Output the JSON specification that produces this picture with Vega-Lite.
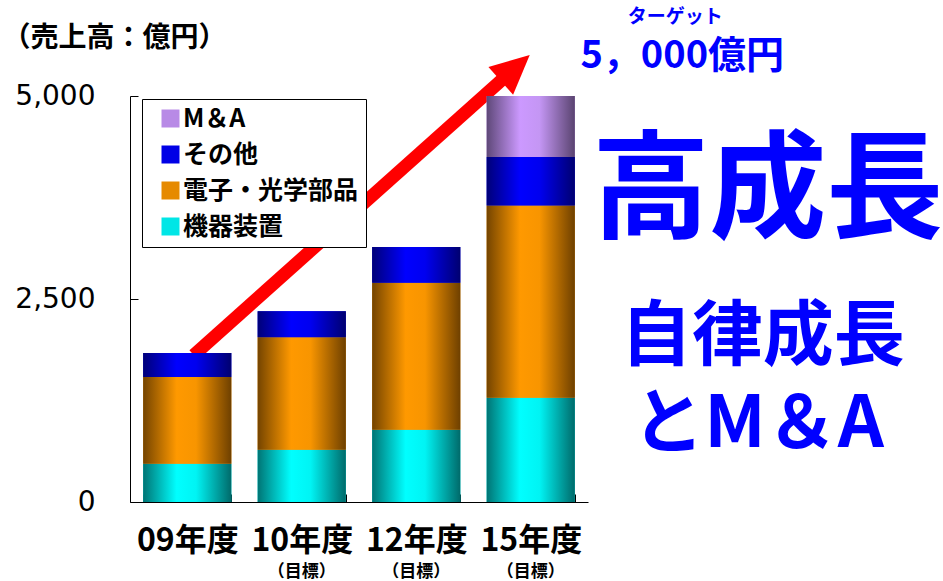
{
  "$schema": "https://vega.github.io/schema/vega-lite/v6.json",
  "width": 458,
  "height": 406,
  "autosize": "none",
  "padding": {"left": 130, "top": 96, "right": 355, "bottom": 79},
  "background": "white",
  "params": [
    {
      "name": "grad",
      "expr": "{'M＆A': {gradient: 'linear', x1: 0, y1: 0, x2: 1, y2: 0, stops: [{offset: 0, color: '#5E4878'}, {offset: 0.38, color: '#CC99FF'}, {offset: 0.6, color: '#C496F4'}, {offset: 1, color: '#5A4470'}]}, 'その他': {gradient: 'linear', x1: 0, y1: 0, x2: 1, y2: 0, stops: [{offset: 0, color: '#000078'}, {offset: 0.38, color: '#0000FF'}, {offset: 0.6, color: '#0000F0'}, {offset: 1, color: '#000070'}]}, '電子・光学部品': {gradient: 'linear', x1: 0, y1: 0, x2: 1, y2: 0, stops: [{offset: 0, color: '#744400'}, {offset: 0.38, color: '#FF9900'}, {offset: 0.6, color: '#F89500'}, {offset: 1, color: '#6E4000'}]}, '機器装置': {gradient: 'linear', x1: 0, y1: 0, x2: 1, y2: 0, stops: [{offset: 0, color: '#007474'}, {offset: 0.38, color: '#00FFFF'}, {offset: 0.6, color: '#00F4F4'}, {offset: 1, color: '#006A6A'}]}}"
    }
  ],
  "datasets": {
    "sales": [
      {"year": "09年度", "category": "機器装置", "rank": 1, "value": 470},
      {"year": "09年度", "category": "電子・光学部品", "rank": 2, "value": 1070},
      {"year": "09年度", "category": "その他", "rank": 3, "value": 295},
      {"year": "10年度", "category": "機器装置", "rank": 1, "value": 645},
      {"year": "10年度", "category": "電子・光学部品", "rank": 2, "value": 1385},
      {"year": "10年度", "category": "その他", "rank": 3, "value": 320},
      {"year": "12年度", "category": "機器装置", "rank": 1, "value": 890},
      {"year": "12年度", "category": "電子・光学部品", "rank": 2, "value": 1810},
      {"year": "12年度", "category": "その他", "rank": 3, "value": 440},
      {"year": "15年度", "category": "機器装置", "rank": 1, "value": 1285},
      {"year": "15年度", "category": "電子・光学部品", "rank": 2, "value": 2365},
      {"year": "15年度", "category": "その他", "rank": 3, "value": 600},
      {"year": "15年度", "category": "M＆A", "rank": 4, "value": 750}
    ],
    "years": [
      {"year": "09年度", "note": ""},
      {"year": "10年度", "note": "（目標）"},
      {"year": "12年度", "note": "（目標）"},
      {"year": "15年度", "note": "（目標）"}
    ],
    "one": [{"item": "arrow"}]
  },
  "layer": [
    {
      "data": {"name": "one"},
      "encoding": {
        "x": {"type": "quantitative", "scale": {"domain": [-0.5, 3.5], "nice": false, "zero": false}, "axis": null},
        "y": {
          "type": "quantitative", "scale": {"domain": [0, 5000], "nice": false},
          "axis": {
            "values": [0, 2500, 5000], "format": ",.0f", "grid": false,
            "labelFont": "DejaVu Sans", "labelFontSize": 28, "labelColor": "black", "labelPadding": 43,
            "tickSize": -8, "tickColor": "black", "domainColor": "black",
            "title": "（売上高：億円）", "titleAngle": 0, "titleAlign": "left", "titleBaseline": "top",
            "titleX": -128, "titleY": -72, "titleFont": "Noto Sans CJK JP", "titleFontSize": 28,
            "titleFontWeight": "bold", "titleColor": "black"
          }
        }
      },
      "layer": [
        {
          "mark": {"type": "rule", "color": "#FF0000", "strokeWidth": 13, "strokeCap": "butt"},
          "encoding": {
            "x": {"datum": 0.057, "type": "quantitative"},
            "y": {"datum": 1810, "type": "quantitative"},
            "x2": {"datum": 2.75},
            "y2": {"datum": 5202}
          }
        },
        {
          "mark": {"type": "point", "filled": true, "color": "#FF0000", "opacity": 1, "shape": "M0,0L1,2.1L-1,2.1Z", "size": 1369, "angle": 48.2, "strokeWidth": 0},
          "encoding": {
            "x": {"datum": 2.991, "type": "quantitative"},
            "y": {"datum": 5505, "type": "quantitative"}
          }
        },
        {
          "mark": {"type": "text", "text": "ターゲット", "font": "Noto Sans CJK JP", "fontWeight": "bold", "fontSize": 19, "color": "#0000FF", "align": "center", "baseline": "middle"},
          "encoding": {
            "x": {"datum": 4.262, "type": "quantitative"},
            "y": {"datum": 5973, "type": "quantitative"}
          }
        },
        {
          "mark": {"type": "text", "text": "5，000億円", "font": "Noto Sans CJK JP", "fontWeight": "bold", "fontSize": 38, "color": "#0000FF", "align": "center", "baseline": "middle"},
          "encoding": {
            "x": {"datum": 4.323, "type": "quantitative"},
            "y": {"datum": 5480, "type": "quantitative"}
          }
        },
        {
          "mark": {"type": "text", "text": "高成長", "font": "Noto Sans CJK JP", "fontWeight": "bold", "fontSize": 117, "color": "#0000FF", "align": "center", "baseline": "middle"},
          "encoding": {
            "x": {"datum": 5.07, "type": "quantitative"},
            "y": {"datum": 3787, "type": "quantitative"}
          }
        },
        {
          "mark": {"type": "text", "text": "自律成長", "font": "Noto Sans CJK JP", "fontWeight": "bold", "fontSize": 71, "color": "#0000FF", "align": "center", "baseline": "middle"},
          "encoding": {
            "x": {"datum": 5.026, "type": "quantitative"},
            "y": {"datum": 2020, "type": "quantitative"}
          }
        },
        {
          "mark": {"type": "text", "text": "とM＆A", "font": "Noto Sans CJK JP", "fontWeight": "bold", "fontSize": 72, "color": "#0000FF", "align": "center", "baseline": "middle"},
          "encoding": {
            "x": {"datum": 4.985, "type": "quantitative"},
            "y": {"datum": 950, "type": "quantitative"}
          }
        }
      ]
    },
    {
      "layer": [
        {
          "data": {"name": "sales"},
          "mark": {"type": "bar", "strokeWidth": 0},
          "encoding": {
            "x": {
              "field": "year", "type": "nominal", "sort": null,
              "scale": {"paddingInner": 0.23, "paddingOuter": 0.115},
              "axis": {
                "title": null, "labelAngle": 0, "labelFont": "Noto Sans CJK JP", "labelFontWeight": "bold",
                "labelFontSize": 32, "labelColor": "black", "labelPadding": 31,
                "tickSize": -8, "tickBand": "extent", "tickColor": "black", "domainColor": "black", "grid": false
              }
            },
            "y": {
              "field": "value", "type": "quantitative", "stack": "zero",
              "scale": {"domain": [0, 5000], "nice": false},
              "axis": {
                "values": [0, 2500, 5000], "format": ",.0f", "grid": false,
                "labelFont": "DejaVu Sans", "labelFontSize": 28, "labelColor": "black", "labelPadding": 43,
                "tickSize": -8, "tickColor": "black", "domainColor": "black",
                "title": "（売上高：億円）", "titleAngle": 0, "titleAlign": "left", "titleBaseline": "top",
                "titleX": -128, "titleY": -72, "titleFont": "Noto Sans CJK JP", "titleFontSize": 28,
                "titleFontWeight": "bold", "titleColor": "black"
              }
            },
            "order": {"field": "rank", "type": "quantitative"},
            "fill": {
              "field": "category", "type": "nominal",
              "scale": {
                "domain": ["M＆A", "その他", "電子・光学部品", "機器装置"],
                "range": ["#B88AE6", "#0000E6", "#E68A00", "#00E6E6"]
              },
              "legend": {
                "title": null, "orient": "none", "legendX": 12, "legendY": 3,
                "strokeColor": "black", "fillColor": "white", "padding": 7, "symbolOffset": 9,
                "symbolType": "square", "symbolSize": 324, "symbolStrokeWidth": 0, "symbolOpacity": 1,
                "labelFont": "Noto Sans CJK JP", "labelFontWeight": "bold", "labelFontSize": 25,
                "labelColor": "black", "labelOffset": 0, "rowPadding": 10, "labelLimit": 400,
                "encode": {"symbols": {"update": {"fill": {"value": {"expr": "grad[datum.value]"}}}}}
              }
            }
          }
        },
        {
          "data": {"name": "sales"},
          "mark": {"type": "bar", "strokeWidth": 0, "fill": {"expr": "grad[datum.category]"}},
          "encoding": {
            "x": {"field": "year", "type": "nominal", "sort": null},
            "y": {"field": "value", "type": "quantitative", "stack": "zero"},
            "order": {"field": "rank", "type": "quantitative"},
            "detail": {"field": "category"}
          }
        },
        {
          "data": {"name": "years"},
          "mark": {"type": "text", "font": "Noto Sans CJK JP", "fontWeight": "bold", "fontSize": 17, "color": "black", "align": "center", "baseline": "middle"},
          "encoding": {
            "x": {"field": "year", "type": "nominal", "sort": null},
            "y": {"datum": -865, "type": "quantitative"},
            "text": {"field": "note"}
          }
        }
      ]
    }
  ],
  "resolve": {"scale": {"x": "independent"}, "axis": {"x": "independent"}},
  "config": {"view": {"stroke": null}}
}
